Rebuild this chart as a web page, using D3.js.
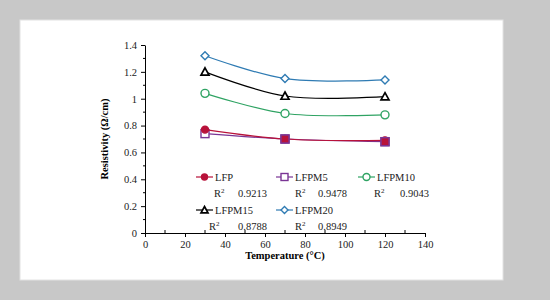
<!DOCTYPE html>
<html>
<head>
<meta charset="utf-8">
<script src="https://cdn.jsdelivr.net/npm/d3@7"></script>
<style>
  body { margin: 0; background: #c8c8c8; }
  text { font-family: "Liberation Serif", "Times New Roman", serif; }
</style>
</head>
<body>
<svg id="chart" width="550" height="300"></svg>
<script>
// data
var temps = [30, 70, 120];
var seriesNames = ['LFP', 'LFPM5', 'LFPM10', 'LFPM15', 'LFPM20'];
var lfp = [0.77, 0.70, 0.69];
var lfpm5 = [0.74, 0.70, 0.68];
var lfpm10 = [1.04, 0.89, 0.88];
var lfpm15 = [1.20, 1.02, 1.015];
var lfpm20 = [1.32, 1.15, 1.14];
var rSquared = ['0.9213', '0.9478', '0.9043', '0.8788', '0.8949'];
var xTicks = [0, 20, 40, 60, 80, 100, 120, 140];
var yTicks = [0, 0.2, 0.4, 0.6, 0.8, 1, 1.2, 1.4];

var values = [lfp, lfpm5, lfpm10, lfpm15, lfpm20];
var colors = ['#b8123a', '#7a3594', '#2fa363', '#000000', '#2f7bb3'];
var shapes = ['circle', 'square', 'circle', 'triangle', 'diamond'];
var filled = [true, false, false, false, false];

var svg = d3.select('#chart');

// white panel
svg.append('rect').attr('x', 20).attr('y', 20).attr('width', 483).attr('height', 260)
  .attr('fill', '#fff').attr('stroke', '#e2e2e2');

var x = d3.scaleLinear().domain([0, 140]).range([145, 425]);
var y = d3.scaleLinear().domain([0, 1.4]).range([233, 45]);

// y axis
var yAxis = svg.append('g').attr('transform', 'translate(' + x(0) + ',0)')
  .call(d3.axisLeft(y).tickValues(yTicks).tickSize(4).tickSizeOuter(0)
    .tickFormat(function (d) { return d3.format('')(+d.toFixed(1)); }));
yAxis.selectAll('text').attr('font-size', 10.5).attr('fill', '#222').attr('x', -8);
yAxis.select('.domain').attr('stroke', '#000');

// y minor ticks
svg.append('g').selectAll('line')
  .data(d3.range(0.1, 1.4, 0.2))
  .enter().append('line')
  .attr('x1', x(0) - 2).attr('x2', x(0))
  .attr('y1', function (d) { return y(d); }).attr('y2', function (d) { return y(d); })
  .attr('stroke', '#000');

// x axis
var xAxis = svg.append('g').attr('transform', 'translate(0,' + y(0) + ')')
  .call(d3.axisBottom(x).tickValues(xTicks).tickSize(4).tickSizeOuter(0));
xAxis.selectAll('text').attr('font-size', 10.5).attr('fill', '#222').attr('y', 8);
xAxis.select('.domain').attr('stroke', '#000');

svg.append('g').selectAll('line')
  .data(d3.range(10, 140, 20))
  .enter().append('line')
  .attr('x1', function (d) { return x(d); }).attr('x2', function (d) { return x(d); })
  .attr('y1', y(0)).attr('y2', y(0) - 3)
  .attr('stroke', '#000');

// axis titles
svg.append('text').attr('x', 285).attr('y', 259).attr('text-anchor', 'middle')
  .attr('font-size', 10.5).attr('font-weight', 'bold').text('Temperature (°C)');
svg.append('text').attr('transform', 'translate(108,139) rotate(-90)')
  .attr('text-anchor', 'middle').attr('font-size', 10.5).attr('font-weight', 'bold')
  .text('Resistivity (Ω/cm)');

function drawMarker(g, shape, color, fill, cx, cy, s) {
  if (shape === 'circle') {
    g.append('circle').attr('cx', cx).attr('cy', cy).attr('r', fill ? s - 0.5 : s)
      .attr('fill', fill ? color : '#fff').attr('stroke', color).attr('stroke-width', 1.4);
  } else if (shape === 'square') {
    g.append('rect').attr('x', cx - s).attr('y', cy - s).attr('width', 2 * s).attr('height', 2 * s)
      .attr('fill', '#fff').attr('stroke', color).attr('stroke-width', 1.4);
  } else if (shape === 'triangle') {
    g.append('path').attr('d', 'M' + cx + ',' + (cy - s) + 'L' + (cx + s) + ',' + (cy + s * 0.8) + 'L' + (cx - s) + ',' + (cy + s * 0.8) + 'Z')
      .attr('fill', '#fff').attr('stroke', color).attr('stroke-width', 1.7);
  } else if (shape === 'diamond') {
    g.append('path').attr('d', 'M' + cx + ',' + (cy - s) + 'L' + (cx + s) + ',' + cy + 'L' + cx + ',' + (cy + s) + 'L' + (cx - s) + ',' + cy + 'Z')
      .attr('fill', '#fff').attr('stroke', color).attr('stroke-width', 1.4);
  }
}

var line = d3.line()
  .x(function (d, i) { return x(temps[i]); })
  .y(function (d) { return y(d); })
  .curve(d3.curveCatmullRom.alpha(0.5));

// series, drawn bottom-up so LFP sits on top of LFPM5
var order = [4, 3, 2, 1, 0];
order.forEach(function (k) {
  var g = svg.append('g');
  g.append('path').datum(values[k]).attr('d', line)
    .attr('fill', 'none').attr('stroke', colors[k]).attr('stroke-width', 1.2);
  values[k].forEach(function (v, i) {
    drawMarker(g, shapes[k], colors[k], filled[k], x(temps[i]), y(v), 4);
  });
});
// LFP filled points on top of LFPM5 squares at 70 and 120
[1, 2].forEach(function (i) {
  svg.append('rect').attr('x', x(temps[i]) - 4).attr('y', y(lfpm5[i]) - 4)
    .attr('width', 8).attr('height', 8).attr('fill', colors[0]).attr('stroke', colors[1]).attr('stroke-width', 1.4);
});

// legend
var legendPos = [
  { lx: 196, ly: 177 }, { lx: 276, ly: 177 }, { lx: 358, ly: 177 },
  { lx: 196, ly: 210 }, { lx: 276, ly: 210 }
];
var rOffsets = [18, 19, 16, 13, 19];
seriesNames.forEach(function (name, k) {
  var p = legendPos[k];
  var g = svg.append('g');
  g.append('line').attr('x1', p.lx).attr('x2', p.lx + 17).attr('y1', p.ly).attr('y2', p.ly)
    .attr('stroke', colors[k]).attr('stroke-width', 1.2);
  drawMarker(g, shapes[k], colors[k], filled[k], p.lx + 8.5, p.ly, 3.5);
  g.append('text').attr('x', p.lx + 19).attr('y', p.ly + 4).attr('font-size', 10.5)
    .attr('fill', '#222').text(name);
  var rt = g.append('text').attr('x', p.lx + rOffsets[k]).attr('y', p.ly + 20).attr('font-size', 10.5).attr('fill', '#222');
  rt.append('tspan').text('R');
  rt.append('tspan').attr('dy', -4).attr('font-size', 7).text('2');
  g.append('text').attr('x', p.lx + 42).attr('y', p.ly + 20).attr('font-size', 10.5)
    .attr('fill', '#222').text(rSquared[k]);
});
</script>
</body>
</html>
